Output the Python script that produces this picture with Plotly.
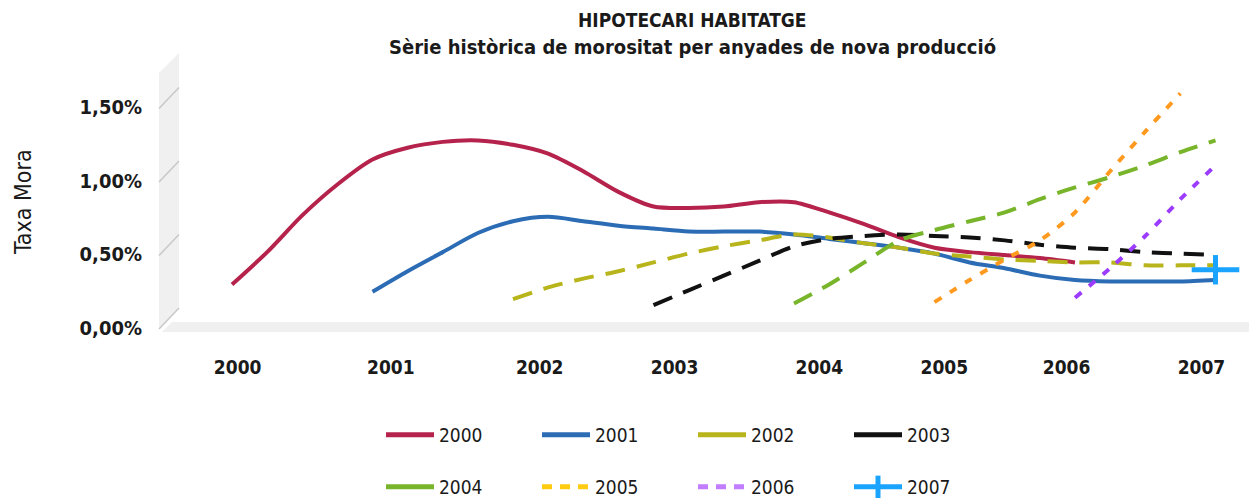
import plotly.graph_objects as go

# ---------------- data (Taxa Mora, %) ----------------
cohorts = ["2000", "2001", "2002", "2003", "2004", "2005", "2006", "2007"]
x_ticklabels = ["2000", "2001", "2002", "2003", "2004", "2005", "2006", "2007"]
y_tickvals = [0.0, 0.5, 1.0, 1.5]
y_ticklabels = ["0,00%", "0,50%", "1,00%", "1,50%"]

# quarterly observations, each cohort starting at the beginning of its year
vals_2000 = [0.16, 0.38, 0.63, 0.84, 1.01, 1.09, 1.13, 1.14, 1.11, 1.05, 0.93, 0.79,
             0.69, 0.68, 0.69, 0.72, 0.72, 0.65, 0.57, 0.48, 0.41, 0.38, 0.36, 0.34, 0.31]
vals_2001 = [0.11, 0.25, 0.38, 0.51, 0.59, 0.62, 0.59, 0.56, 0.54, 0.52, 0.52, 0.52,
             0.50, 0.47, 0.44, 0.41, 0.37, 0.31, 0.27, 0.22, 0.19, 0.18, 0.18, 0.18, 0.19]
vals_2002 = [0.06, 0.14, 0.20, 0.25, 0.31, 0.37, 0.42, 0.46, 0.50, 0.48, 0.44, 0.41,
             0.37, 0.35, 0.33, 0.32, 0.31, 0.31, 0.29, 0.29, 0.29]
vals_2003 = [0.02, 0.12, 0.22, 0.32, 0.42, 0.47, 0.49, 0.50, 0.49, 0.48, 0.46, 0.43,
             0.41, 0.40, 0.38, 0.37, 0.36]
vals_2004 = [0.03, 0.16, 0.31, 0.46, 0.53, 0.59, 0.65, 0.74, 0.82, 0.89, 0.97, 1.06, 1.14]
vals_2005 = [0.04, 0.19, 0.33, 0.46, 0.65, 0.93, 1.20, 1.46]
vals_2006 = [0.07, 0.27, 0.49, 0.74, 0.97]
vals_2007 = [0.26]

start_year = [2000, 2001, 2002, 2003, 2004, 2005, 2006, 2007]
series_vals = [vals_2000, vals_2001, vals_2002, vals_2003,
               vals_2004, vals_2005, vals_2006, vals_2007]

# ---------------- styles ----------------
line_colors = ["#b5234c", "#2b6cb5", "#b8b51c", "#111111",
               "#78b52b", "#ff9a1f", "#9b3cff", "#1aa3ff"]
legend_colors = ["#b5234c", "#2b6cb5", "#b8b51c", "#111111",
                 "#78b52b", "#ffcc11", "#c27cff", "#1aa3ff"]
dashes = ["solid", "solid", "20px,12px", "20px,12px",
          "20px,12px", "8px,10px", "8px,10px", "solid"]
legend_dashes = ["solid", "solid", "solid", "solid", "solid", "10px,8px", "10px,8px", "solid"]

FONT = "'Liberation Sans Narrow', 'DejaVu Sans Condensed', 'DejaVu Sans', sans-serif"

# page geometry: the page body has an 8px margin, so the figure starts at (8, 8)
OFF = 8
PAGE_W, PAGE_H = 1257, 498
W, H = PAGE_W - OFF, PAGE_H - OFF
# plot area in page pixels
PX0, PX1, PY0, PY1 = 160, 1257, 60, 330
L, R, T, B = PX0 - OFF, PAGE_W - PX1, PY0 - OFF, PAGE_H - PY1
PW, PH = PX1 - PX0, PY1 - PY0


def px_to_paper_x(px):
    return (px - PX0) / PW


def px_to_paper_y(py):
    return (PY1 - py) / PH


fig = go.Figure()

for i, name in enumerate(cohorts):
    vals = series_vals[i]
    xs = [start_year[i] + 0.25 * k for k in range(len(vals))]
    if name == "2007":
        fig.add_trace(go.Scatter(x=xs, y=vals, mode="markers", showlegend=False,
                                 marker=dict(symbol="line-ew", size=34,
                                             line=dict(width=5, color=line_colors[i])),
                                 hoverinfo="skip"))
        fig.add_trace(go.Scatter(x=xs, y=vals, mode="markers", showlegend=False,
                                 marker=dict(symbol="line-ns", size=21,
                                             line=dict(width=5, color=line_colors[i])),
                                 name=name))
    else:
        fig.add_trace(go.Scatter(x=xs, y=vals, mode="lines", showlegend=False, name=name,
                                 line=dict(color=line_colors[i], width=4, dash=dashes[i],
                                           shape="spline", smoothing=0.8)))

# legend entries (two rows of four)
for i, name in enumerate(cohorts):
    legend_id = "legend" if i < 4 else "legend2"
    if name == "2007":
        fig.add_trace(go.Scatter(x=[None], y=[None], mode="lines+markers", name=name,
                                 legend=legend_id,
                                 line=dict(color=legend_colors[i], width=5),
                                 marker=dict(symbol="line-ns", size=16,
                                             line=dict(width=5, color=legend_colors[i]))))
    else:
        fig.add_trace(go.Scatter(x=[None], y=[None], mode="lines", name=name,
                                 legend=legend_id,
                                 line=dict(color=legend_colors[i], width=5,
                                           dash=legend_dashes[i])))

# 3D-like wall and floor (page pixels)
wall = [(159, 329), (179, 308), (179, 53), (159, 73)]
floor = [(162, 332), (PAGE_W, 332), (PAGE_W, 322), (172, 322)]


def poly_path(pts):
    return "M " + " L ".join(f"{px_to_paper_x(x):.5f},{px_to_paper_y(y):.5f}" for x, y in pts) + " Z"


shapes = [
    dict(type="path", xref="paper", yref="paper", path=poly_path(wall),
         fillcolor="#f0f0f0", line=dict(width=0), layer="below"),
    dict(type="path", xref="paper", yref="paper", path=poly_path(floor),
         fillcolor="#f0f0f0", line=dict(width=0), layer="below"),
]
front_drop = 21 / 147.0
for v in y_tickvals:
    shapes.append(dict(type="line", xref="paper", yref="y",
                       x0=px_to_paper_x(159), x1=px_to_paper_x(179),
                       y0=v - front_drop, y1=v,
                       line=dict(color="#c8c8c8", width=1.5), layer="below"))

# x label positions (labels sit slightly irregularly under the floor)
x_tickpos = [2000.04, 2001.13, 2002.19, 2003.15, 2004.18, 2005.07, 2005.94, 2006.90]

legend_common = dict(orientation="h", xanchor="left", yanchor="middle",
                     entrywidth=93, entrywidthmode="pixels",
                     font=dict(size=19, family=FONT, color="#1a1a1a"),
                     bgcolor="rgba(0,0,0,0)", itemwidth=48, tracegroupgap=0)

fig.update_layout(
    width=W, height=H,
    margin=dict(l=L, r=R, t=T, b=B, autoexpand=False),
    paper_bgcolor="white", plot_bgcolor="rgba(0,0,0,0)",
    font=dict(family=FONT, color="#1a1a1a", size=17),
    shapes=shapes,
    xaxis=dict(range=[1999.4875, 2007.2954], showgrid=False, zeroline=False,
               showline=False, ticks="", tickmode="array",
               tickvals=x_tickpos, ticktext=x_ticklabels,
               tickfont=dict(size=19, family=FONT, color="#1a1a1a", weight="bold"),
               ticklabelstandoff=24, fixedrange=True),
    yaxis=dict(range=[-0.1497, 1.687], showgrid=False, zeroline=False,
               showline=False, ticks="", tickmode="array",
               tickvals=y_tickvals, ticktext=y_ticklabels,
               tickfont=dict(size=20, family=FONT, color="#1a1a1a", weight="bold"),
               ticklabelstandoff=17, ticklabelshift=20, fixedrange=True),
    legend=dict(x=px_to_paper_x(381), y=px_to_paper_y(435), **legend_common),
    legend2=dict(x=px_to_paper_x(381), y=px_to_paper_y(487), **legend_common),
    annotations=[
        dict(text="HIPOTECARI HABITATGE", xref="paper", yref="paper",
             x=px_to_paper_x(692), y=px_to_paper_y(20), showarrow=False,
             xanchor="center", yanchor="middle",
             font=dict(size=19, family=FONT, color="#1a1a1a", weight="bold")),
        dict(text="Sèrie històrica de morositat per anyades de nova producció",
             xref="paper", yref="paper",
             x=px_to_paper_x(692), y=px_to_paper_y(47), showarrow=False,
             xanchor="center", yanchor="middle",
             font=dict(size=20, family=FONT, color="#1a1a1a", weight="bold")),
        dict(text="Taxa Mora", xref="paper", yref="paper",
             x=px_to_paper_x(23), y=px_to_paper_y(202), showarrow=False,
             textangle=-90, xanchor="center", yanchor="middle",
             font=dict(size=23, family=FONT, color="#1a1a1a")),
    ],
    showlegend=True,
)

fig.write_html("out.html")
